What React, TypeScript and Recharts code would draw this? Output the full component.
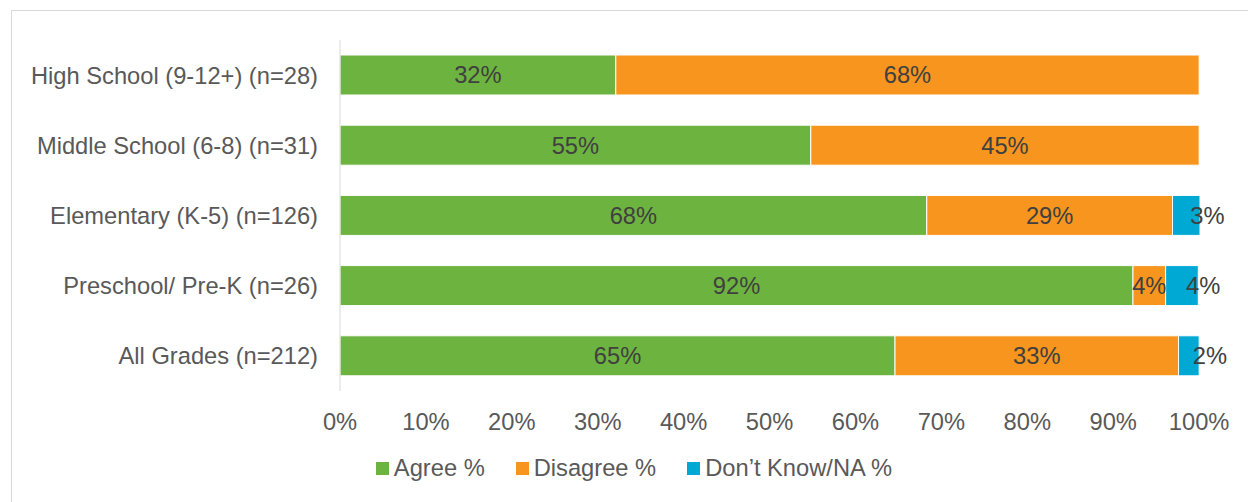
import { BarChart, Bar, XAxis, YAxis, LabelList, Legend } from "recharts";

const grades = [
    "High School (9-12+) (n=28)",
    "Middle School (6-8) (n=31)",
    "Elementary (K-5) (n=126)",
    "Preschool/ Pre-K (n=26)",
    "All Grades (n=212)"
];
const agree = [32.1, 54.8, 68.3, 92.3, 64.6];
const disagree = [67.9, 45.2, 28.6, 3.8, 33.0];
const dontKnow = [0, 0, 3.2, 3.8, 2.4];
const xTicks = [0, 10, 20, 30, 40, 50, 60, 70, 80, 90, 100];

const seriesInfo = [
    { key: "agree", name: "Agree %", color: "#6db33f" },
    { key: "disagree", name: "Disagree %", color: "#f7951e" },
    { key: "dontKnow", name: "Don\u2019t Know/NA %", color: "#00a8d4" }
];

const data = grades.map((g, i) => ({
    grade: g,
    agree: agree[i],
    disagree: disagree[i],
    dontKnow: dontKnow[i]
}));

const FONT = "'Liberation Sans', Arial, sans-serif";
const FS = 23.7;

const pct = (v: any) => (v > 0 ? `${Math.round(v)}%` : "");

// blue segments are too thin, so their labels sit a bit to the right
function SideLabel(props: any) {
    const { x, y, width, height, value } = props;
    if (!value) return null;
    return (
        <text
            x={x + width / 2 + 4}
            y={y + height / 2}
            dy="0.35em"
            textAnchor="start"
            fill="#404040"
            fontSize={FS}
            fontFamily={FONT}
        >
            {pct(value)}
        </text>
    );
}

function LegendBox() {
    return (
        <div style={{ display: "flex", justifyContent: "center", fontFamily: FONT, fontSize: FS, color: "#595959" }}>
            {seriesInfo.map((s, i) => (
                <div key={s.key} style={{ display: "flex", alignItems: "center", marginLeft: i ? 31 : 0 }}>
                    <span style={{ width: 13, height: 13, background: s.color, display: "inline-block", marginRight: 5 }} />
                    <span>{s.name}</span>
                </div>
            ))}
        </div>
    );
}

export default function App() {
    return (
        <div style={{ position: "fixed", left: 0, top: 0, width: 1248, height: 502, background: "#fff" }}>
            <div
                style={{
                    position: "absolute",
                    left: 11,
                    top: 10,
                    width: 1260,
                    height: 520,
                    border: "1px solid #d9d9d9",
                    boxSizing: "border-box"
                }}
            />
            <BarChart
                width={1248}
                height={502}
                data={data}
                layout="vertical"
                margin={{ top: 40, right: 48, left: 0, bottom: 0 }}
                style={{ position: "absolute", left: 0, top: 0 }}
            >
                <XAxis
                    type="number"
                    domain={[0, 100]}
                    ticks={xTicks}
                    tickFormatter={(v) => `${v}%`}
                    axisLine={false}
                    tickLine={false}
                    tickMargin={16}
                    height={111}
                    interval={0}
                    tick={{ fontSize: FS, fill: "#595959", fontFamily: FONT }}
                />
                <YAxis
                    type="category"
                    dataKey="grade"
                    width={340}
                    axisLine={{ stroke: "#d9d9d9" }}
                    tickLine={false}
                    tickMargin={16}
                    tick={{ fontSize: FS, fill: "#595959", fontFamily: FONT }}
                />
                <Legend
                    verticalAlign="middle"
                    layout="horizontal"
                    wrapperStyle={{ top: 455, left: 20, width: 1228 }}
                    content={() => <LegendBox />}
                />
                <Bar dataKey="agree" name="Agree %" stackId="a" fill={seriesInfo[0].color} stroke="#fff" strokeWidth={1} barSize={40} isAnimationActive={false}>
                    <LabelList dataKey="agree" position="center" formatter={pct} fill="#404040" fontSize={FS} fontFamily={FONT} />
                </Bar>
                <Bar dataKey="disagree" name="Disagree %" stackId="a" fill={seriesInfo[1].color} stroke="#fff" strokeWidth={1} barSize={40} isAnimationActive={false}>
                    <LabelList dataKey="disagree" position="center" formatter={pct} fill="#404040" fontSize={FS} fontFamily={FONT} />
                </Bar>
                <Bar dataKey="dontKnow" name="Don't Know/NA %" stackId="a" fill={seriesInfo[2].color} stroke="#fff" strokeWidth={1} barSize={40} isAnimationActive={false}>
                    <LabelList dataKey="dontKnow" content={SideLabel} />
                </Bar>
            </BarChart>
        </div>
    );
}
